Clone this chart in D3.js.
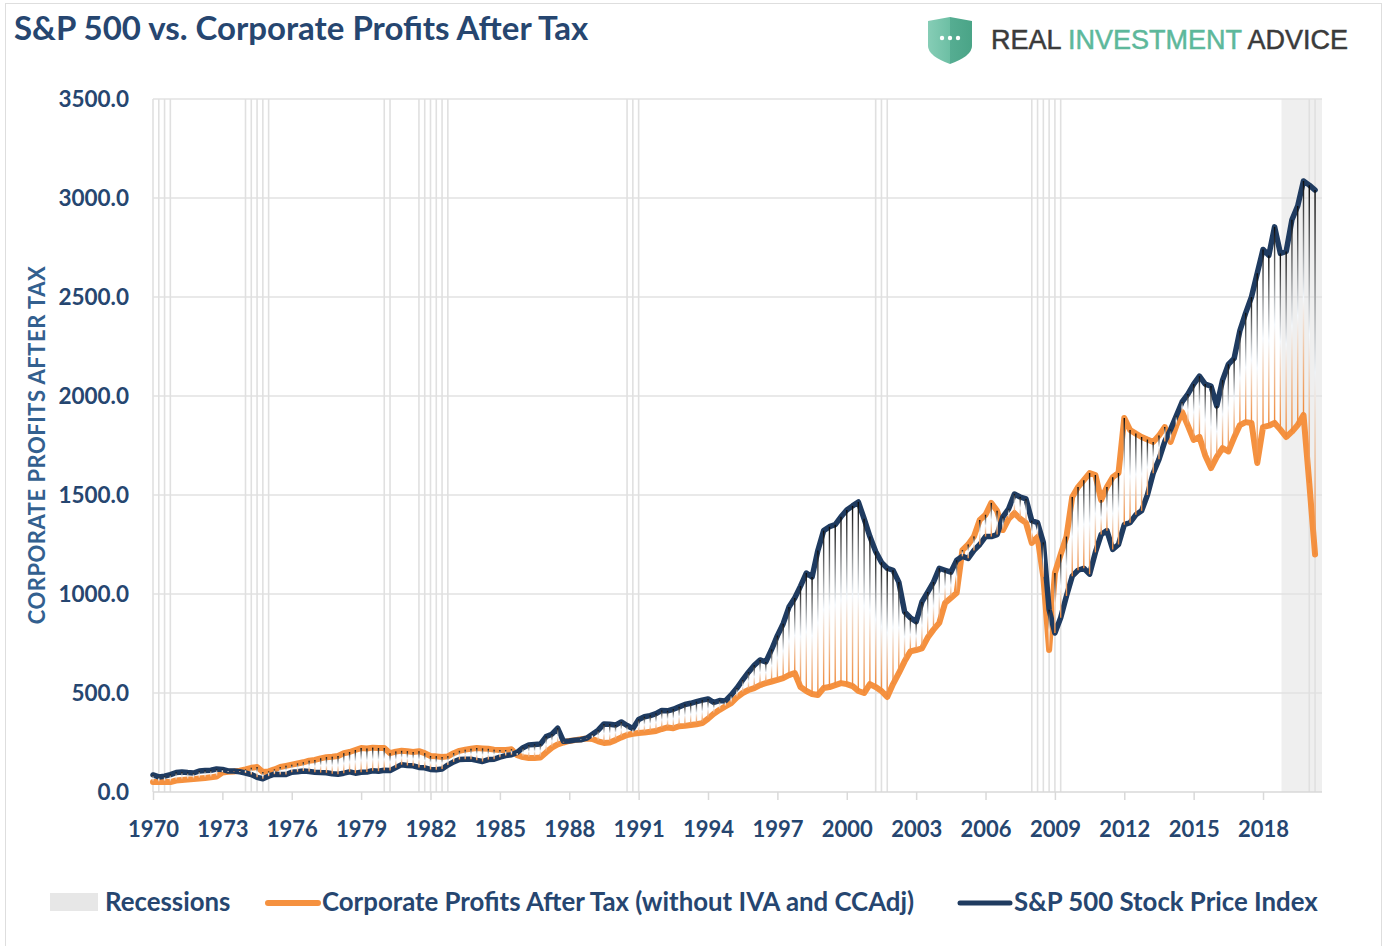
<!DOCTYPE html>
<html>
<head>
<meta charset="utf-8">
<script src="https://cdn.jsdelivr.net/npm/d3@7/dist/d3.min.js"></script>
<style>
  body { margin: 0; background: #fff; }
  svg { display: block; font-family: Lato, "Open Sans", sans-serif; }
</style>
</head>
<body>
<script>
'use strict';

// quarterly series, starting 1970 Q1
const firstYear = 1970;

// S&P 500 stock price index
const sp500 = [
  86, 76, 80, 88,        98, 101, 98, 96,       106, 108, 110, 116,    114, 106, 106, 102,
  96, 88, 74, 67,        80, 90, 88, 88,        100, 102, 106, 104,    100, 98, 97, 92,
  90, 95, 102, 95,       100, 101, 107, 105,    110, 108, 123, 138,    134, 132, 124, 122,
  114, 112, 116, 136,    152, 164, 166, 166,    160, 154, 164, 166,    176, 184, 188, 200,
  224, 238, 240, 242,    280, 292, 322, 256,    258, 262, 264, 272,    292, 312, 344, 342,
  338, 354, 336, 320,    366, 380, 386, 396,    412, 410, 418, 430,    442, 448, 456, 464,
  470, 452, 462, 460,    490, 525, 566, 605,    640, 667, 657, 720,    790, 850, 934, 980,
  1040, 1106, 1086, 1220, 1320, 1340, 1350, 1390, 1424, 1445, 1465, 1380, 1290, 1215, 1160, 1130,
  1120, 1060, 910, 880,  860, 960, 1010, 1060,  1130, 1120, 1110, 1170, 1190, 1180, 1220, 1250,
  1290, 1290, 1300, 1390, 1430, 1505, 1490, 1480, 1370, 1360, 1260, 920, 803, 880, 990, 1090,
  1120, 1130, 1100, 1210, 1300, 1320, 1225, 1250, 1350, 1360, 1400, 1420, 1500, 1610, 1680, 1770,
  1830, 1900, 1970, 2010, 2060, 2100, 2060, 2050, 1950, 2080, 2160, 2190, 2330, 2420, 2500, 2620,
  2740, 2710, 2854, 2720, 2730, 2890, 2960, 3086, 3065, 3040
];

// Corporate profits after tax (without IVA and CCAdj)
const profits = [
  51, 50, 52, 50,        58, 61, 63, 65,        68, 71, 74, 78,        98, 102, 104, 108,
  114, 122, 126, 101,    104, 114, 126, 132,    138, 144, 150, 158,    162, 170, 176, 178,
  182, 196, 202, 212,    222, 220, 224, 222,    222, 196, 204, 208,    206, 202, 206, 196,
  182, 180, 177, 180,    196, 208, 214, 218,    222, 220, 218, 214,    212, 212, 216, 186,
  176, 172, 172, 174,    200, 224, 240, 250,    258, 262, 266, 270,    268, 256, 248, 250,
  262, 276, 288, 294,    298, 300, 304, 308,    318, 326, 322, 332,    334, 338, 342, 348,
  370, 395, 415, 432,    449, 478, 500, 515,    525, 540, 550, 558,    566, 575, 590, 601,
  530, 510, 495, 490,    525, 530, 540, 550,    545, 535, 510, 500,    545, 530, 510, 480,
  545, 600, 660, 710,    717, 725, 780, 820,    854, 954, 980, 1005,   1222, 1250, 1290, 1374,
  1400, 1460, 1420, 1323, 1380, 1409, 1380, 1359, 1258, 1288, 1086, 717, 1106, 1200, 1290, 1490,
  1540, 1575, 1611, 1601, 1475, 1540, 1590, 1611, 1889, 1828, 1810, 1793, 1780, 1768, 1800, 1843,
  1768, 1850, 1919, 1850, 1778, 1793, 1700, 1636, 1692, 1737, 1720, 1790, 1853, 1868, 1864, 1662,
  1843, 1850, 1864, 1830, 1793, 1820, 1853, 1904, 1560, 1200
];

// quarters flagged as recession (decimal years)
const recessionQuarters = [
  1970, 1970.25, 1970.5, 1970.75,
  1974, 1974.25, 1974.5, 1974.75, 1975,
  1980, 1980.25,
  1981.5, 1981.75, 1982, 1982.25, 1982.5, 1982.75,
  1990.5, 1990.75, 1991,
  2001.25, 2001.5, 2001.75,
  2008, 2008.25, 2008.5, 2008.75, 2009, 2009.25,
  2020, 2020.25
];
const shadedSpan = [2018.8, 2020.55];

const xTicks = [1970, 1973, 1976, 1979, 1982, 1985, 1988, 1991, 1994, 1997, 2000, 2003, 2006, 2009, 2012, 2015, 2018];
const yTicks = [0, 500, 1000, 1500, 2000, 2500, 3000, 3500];

const navy = '#1f3b60';
const orange = '#f5913f';
const labelColor = '#264670';

const svg = d3.select('body').append('svg')
  .attr('width', 1389)
  .attr('height', 946);

const x = d3.scaleLinear().domain([1970, 2020.55]).range([153, 1322]);
const y = d3.scaleLinear().domain([0, 3500]).range([792, 99]);
const quarter = i => firstYear + i / 4;

// outer frame
svg.append('rect')
  .attr('x', 5.5).attr('y', 3.5)
  .attr('width', 1376).attr('height', 960)
  .attr('fill', 'none')
  .attr('stroke', '#dedede');

// title
svg.append('text')
  .attr('x', 14).attr('y', 40)
  .attr('fill', labelColor)
  .style('font-size', '33px')
  .style('font-weight', 700)
  .text('S&P 500 vs. Corporate Profits After Tax');

// logo
const logo = svg.append('g');
const defs = svg.append('defs');
const shieldGrad = defs.append('linearGradient').attr('id', 'shield')
  .attr('x1', 0).attr('x2', 1).attr('y1', 0).attr('y2', 0);
shieldGrad.append('stop').attr('offset', '0%').attr('stop-color', '#86cdb6');
shieldGrad.append('stop').attr('offset', '50%').attr('stop-color', '#6dbfa4');
shieldGrad.append('stop').attr('offset', '50%').attr('stop-color', '#56ad92');
shieldGrad.append('stop').attr('offset', '100%').attr('stop-color', '#4aa487');
logo.append('path')
  .attr('d', 'M928,21 L950,17 L972,21 L972,46 Q972,56 950,64 Q928,56 928,46 Z')
  .attr('fill', 'url(#shield)');
[942, 950, 958].forEach(cx => {
  logo.append('circle').attr('cx', cx).attr('cy', 38).attr('r', 2.2).attr('fill', '#fff');
});
const logoText = logo.append('text')
  .attr('x', 991).attr('y', 49)
  .style('font-family', '"Liberation Sans", Arial, sans-serif')
  .style('font-size', '27px')
  .style('stroke-width', 0.5);
logoText.append('tspan').attr('fill', '#3b3b3b').attr('stroke', '#3b3b3b').text('REAL ');
logoText.append('tspan').attr('fill', '#5db89b').attr('stroke', '#5db89b').text('INVESTMENT');
logoText.append('tspan').attr('fill', '#3b3b3b').attr('stroke', '#3b3b3b').text(' ADVICE');

// shaded span at the end
svg.append('rect')
  .attr('x', x(shadedSpan[0]))
  .attr('y', y(3500))
  .attr('width', x(shadedSpan[1]) - x(shadedSpan[0]))
  .attr('height', y(0) - y(3500))
  .attr('fill', '#efefef');

// horizontal grid
svg.append('g').selectAll('line')
  .data(yTicks.slice(1))
  .enter().append('line')
  .attr('x1', x(1970)).attr('x2', x(2020.55))
  .attr('y1', d => y(d)).attr('y2', d => y(d))
  .attr('stroke', '#e2e2e2')
  .attr('stroke-width', 1.5);

// recession lines
svg.append('g').selectAll('line')
  .data(recessionQuarters)
  .enter().append('line')
  .attr('x1', d => x(d)).attr('x2', d => x(d))
  .attr('y1', y(0)).attr('y2', y(3500))
  .attr('stroke', '#e0e0e0')
  .attr('stroke-width', 1.6);

// x axis
const xAxis = d3.axisBottom(x)
  .tickValues(xTicks)
  .tickFormat(d3.format('d'))
  .tickSize(8)
  .tickPadding(21);
const xg = svg.append('g')
  .attr('transform', `translate(0, ${y(0)})`)
  .call(xAxis);
xg.select('.domain').attr('stroke', '#d9d9d9').attr('stroke-width', 1.5)
  .attr('d', `M${x(1970)},0H${x(2020.55)}`);
xg.selectAll('.tick line').attr('stroke', '#d9d9d9').attr('stroke-width', 1.5);
xg.selectAll('.tick text')
  .attr('fill', labelColor)
  .style('font-size', '22px')
  .style('font-weight', 700)
  .style('font-family', 'Lato, sans-serif');

// y axis labels
const yAxis = d3.axisLeft(y)
  .tickValues(yTicks)
  .tickFormat(d3.format('.1f'))
  .tickSize(0)
  .tickPadding(0);
const yg = svg.append('g')
  .attr('transform', 'translate(129, 0)')
  .call(yAxis);
yg.select('.domain').remove();
yg.selectAll('.tick text')
  .attr('fill', labelColor)
  .style('font-size', '22.5px')
  .style('font-weight', 700)
  .style('font-family', 'Lato, sans-serif');

// y axis title
svg.append('text')
  .attr('transform', 'translate(45, 445) rotate(-90)')
  .attr('text-anchor', 'middle')
  .attr('fill', '#33608f')
  .style('font-size', '22px')
  .style('letter-spacing', '0.5px')
  .style('font-weight', 700)
  .text('CORPORATE PROFITS AFTER TAX');

// series lines
const line = d3.line()
  .x((d, i) => x(quarter(i)))
  .y(d => y(d));

svg.append('path')
  .datum(profits)
  .attr('d', line)
  .attr('fill', 'none')
  .attr('stroke', orange)
  .attr('stroke-width', 6)
  .attr('stroke-linejoin', 'round')
  .attr('stroke-linecap', 'round');

svg.append('path')
  .datum(sp500)
  .attr('d', line)
  .attr('fill', 'none')
  .attr('stroke', navy)
  .attr('stroke-width', 5.5)
  .attr('stroke-linejoin', 'round')
  .attr('stroke-linecap', 'round');

// high-low lines with a gradient from dark (top) to orange (bottom)
const pairs = sp500.map((v, i) => {
  const a = y(v), b = y(profits[i]);
  return { t: quarter(i), top: Math.min(a, b), bottom: Math.max(a, b), i: i };
});

pairs.forEach(p => {
  const g = defs.append('linearGradient')
    .attr('id', 'hl' + p.i)
    .attr('gradientUnits', 'userSpaceOnUse')
    .attr('x1', x(p.t)).attr('x2', x(p.t))
    .attr('y1', p.top).attr('y2', p.bottom);
  g.append('stop').attr('offset', '0%').attr('stop-color', '#0b0b0b');
  g.append('stop').attr('offset', '50%').attr('stop-color', '#f3f7fb');
  g.append('stop').attr('offset', '100%').attr('stop-color', '#ef8736');
});

svg.append('g').selectAll('line')
  .data(pairs)
  .enter().append('line')
  .attr('x1', d => x(d.t)).attr('x2', d => x(d.t))
  .attr('y1', d => d.top).attr('y2', d => d.bottom)
  .attr('stroke', d => `url(#hl${d.i})`)
  .attr('stroke-width', 1.4);

// legend
const legend = svg.append('g')
  .style('font-size', '25.8px')
  .style('font-weight', 700)
  .attr('fill', labelColor);

legend.append('rect')
  .attr('x', 50).attr('y', 893)
  .attr('width', 48).attr('height', 18)
  .attr('fill', '#e7e7e7');
legend.append('text').attr('x', 105).attr('y', 911).text('Recessions');

legend.append('line')
  .attr('x1', 268).attr('x2', 318)
  .attr('y1', 903).attr('y2', 903)
  .attr('stroke', orange).attr('stroke-width', 6).attr('stroke-linecap', 'round');
legend.append('text').attr('x', 322).attr('y', 911)
  .text('Corporate Profits After Tax (without IVA and CCAdj)');

legend.append('line')
  .attr('x1', 960).attr('x2', 1010)
  .attr('y1', 903).attr('y2', 903)
  .attr('stroke', navy).attr('stroke-width', 5).attr('stroke-linecap', 'round');
legend.append('text').attr('x', 1014).attr('y', 911).text('S&P 500 Stock Price Index');
</script>
</body>
</html>
